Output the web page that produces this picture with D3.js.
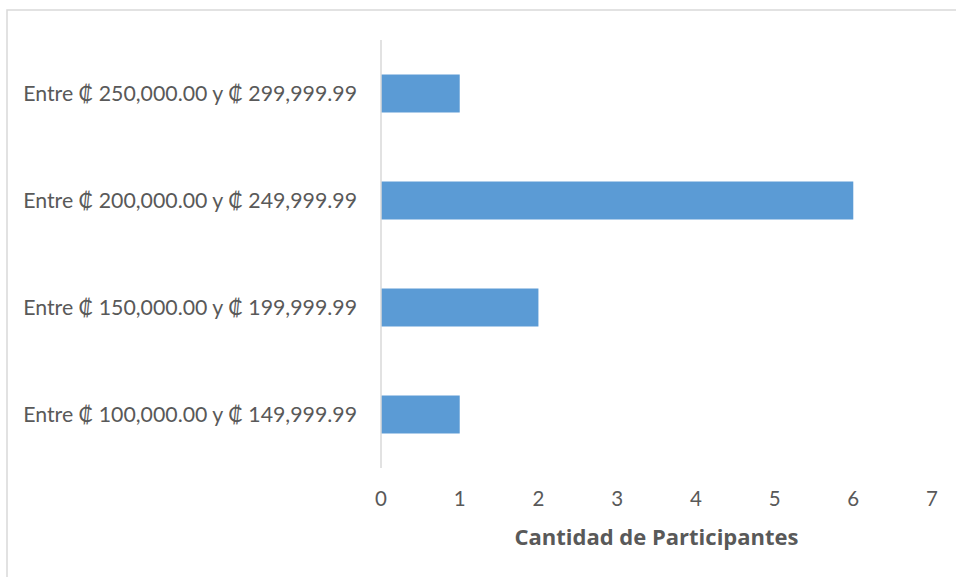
<!DOCTYPE html>
<html lang="es">
<head>
    <meta charset="UTF-8">
    <title>Cantidad de Participantes</title>
    <script src="https://d3js.org/d3.v7.min.js"></script>
    <style>
        body { margin: 0; background: #fff; }
        svg text { font-family: Lato, "Open Sans", "DejaVu Sans", sans-serif; fill: #595959; }
    </style>
</head>
<body>
    <svg width="956" height="577"></svg>

    <script type="text/javascript">
        // Data
        const categories = [
            'Entre ₡ 250,000.00 y ₡ 299,999.99',
            'Entre ₡ 200,000.00 y ₡ 249,999.99',
            'Entre ₡ 150,000.00 y ₡ 199,999.99',
            'Entre ₡ 100,000.00 y ₡ 149,999.99'
        ];
        const participants = [1, 6, 2, 1];
        const xTicks = [0, 1, 2, 3, 4, 5, 6, 7];

        const width = 956;
        const height = 577;
        const margin = { top: 40, right: 24, bottom: 109, left: 381 };

        const svg = d3.select('svg');

        // chart area frame (only left/top edges visible)
        svg.append('rect')
            .attr('x', 7).attr('y', 10)
            .attr('width', width + 10).attr('height', height + 10)
            .attr('fill', 'none')
            .attr('stroke', '#d9d9d9')
            .attr('stroke-width', 1.5);

        const x = d3.scaleLinear()
            .domain([0, 7])
            .range([margin.left, width - margin.right]);

        const y = d3.scaleBand()
            .domain(categories)
            .range([margin.top, height - margin.bottom])
            .paddingInner(0.645)
            .paddingOuter(0.3225);

        // bars
        svg.selectAll('.bar')
            .data(categories)
            .join('rect')
            .attr('class', 'bar')
            .attr('x', x(0))
            .attr('y', d => y(d))
            .attr('width', (d, i) => x(participants[i]) - x(0))
            .attr('height', y.bandwidth())
            .attr('fill', '#5b9bd5');

        // vertical category axis line
        svg.append('line')
            .attr('x1', x(0)).attr('x2', x(0))
            .attr('y1', margin.top).attr('y2', height - margin.bottom)
            .attr('stroke', '#d9d9d9')
            .attr('stroke-width', 1.5);

        // category labels
        svg.selectAll('.cat')
            .data(categories)
            .join('text')
            .attr('class', 'cat')
            .attr('x', x(0) - 24)
            .attr('y', d => y(d) + y.bandwidth() / 2)
            .attr('dy', '0.36em')
            .attr('text-anchor', 'end')
            .style('font-size', '21.3px')
            .text(d => d);

        // value axis tick labels
        svg.selectAll('.tick-label')
            .data(xTicks)
            .join('text')
            .attr('class', 'tick-label')
            .attr('x', d => x(d))
            .attr('y', 506)
            .attr('text-anchor', 'middle')
            .style('font-size', '20.5px')
            .text(d => d);

        // axis title
        svg.append('text')
            .attr('x', (x(0) + x(7)) / 2)
            .attr('y', 545)
            .attr('text-anchor', 'middle')
            .style('font-family', '"Open Sans", Lato, sans-serif')
            .style('font-size', '22px')
            .style('font-weight', 'bold')
            .text('Cantidad de Participantes');
    </script>
</body>
</html>
